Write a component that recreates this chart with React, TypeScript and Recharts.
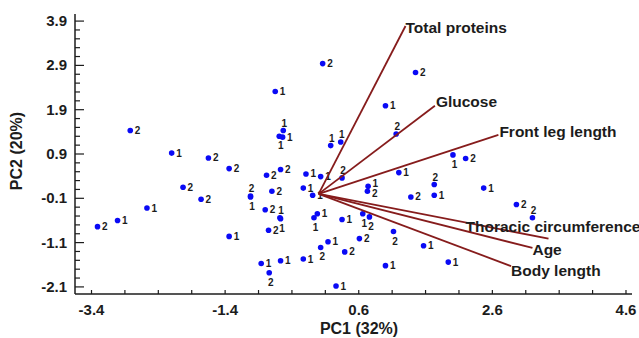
import { ScatterChart, Scatter, XAxis, YAxis } from 'recharts';

// PCA scores (PC1, PC2), split by group
const GROUP_1: [number, number][] = [
  [-0.65, 2.31], [-2.2, 0.92], [-0.53, 1.43], [-0.59, 1.3], [-0.54, 1.28],
  [0.18, 1.09], [0.33, 1.17], [-0.19, 0.45], [0.03, 0.39], [-0.23, 0.13],
  [-0.09, -0.03], [-1.02, -0.07], [-2.57, -0.32], [-3.01, -0.6], [-0.58, -0.54],
  [-0.57, -0.56], [-1.34, -0.96], [-0.86, -1.57], [-0.57, -1.51], [-0.23, -1.47],
  [0.14, -1.08], [-0.02, -0.45], [-0.07, -0.54], [0.35, -0.58], [0.26, -2.08],
  [1.2, 0.48], [2.01, 0.88], [0.74, 0.17], [1.73, -0.03], [2.47, 0.13],
  [0.66, -0.45], [1.57, -1.17], [1.0, -1.62], [1.94, -1.54], [1.0, 1.99],
];
// where the group number sits next to each dot:
// r = right, u = right and a bit up, d = right and a bit down, t = top, b = below
const GROUP_1_SIDE = [
  'r', 'r', 't', 'b', 'r',
  't', 't', 'r', 'r', 'r',
  'r', 'b', 'r', 'r', 't',
  'b', 'r', 'r', 'r', 'r',
  'r', 'r', 'b', 'r', 'r',
  'r', 'b', 'u', 'r', 'r',
  'b', 'r', 'r', 'r', 'r',
];

const GROUP_2: [number, number][] = [
  [0.06, 2.94], [-2.82, 1.43], [-1.65, 0.81], [-1.34, 0.57], [-0.57, 0.55],
  [-0.78, 0.42], [0.35, 0.36], [-0.7, 0.06], [-1.02, -0.05], [-2.03, 0.15],
  [-1.76, -0.12], [-3.31, -0.74], [-0.8, -0.36], [-0.75, -0.82], [-0.74, -1.78],
  [0.03, -1.21], [0.39, -1.31], [2.2, 0.8], [0.73, 0.06], [1.73, 0.21],
  [1.38, -0.07], [2.96, -0.24], [3.2, -0.54], [0.76, -0.52], [1.12, -0.85],
  [0.61, -1.01], [1.45, 2.74], [1.16, 1.35],
];
const GROUP_2_SIDE = [
  'r', 'r', 'r', 'r', 'r',
  'r', 't', 'r', 't', 'r',
  'r', 'r', 'r', 'r', 'b',
  'b', 'r', 'r', 'd', 't',
  'r', 'r', 't', 'b', 'b',
  'r', 'r', 't',
];

// variable loadings (arrow tips)
const LOADING_NAMES = [
  'Total proteins',
  'Glucose',
  'Front leg length',
  'Thoracic circumference',
  'Age',
  'Body length',
];
const LOADING_PC1 = [1.3, 1.74, 2.69, 3.44, 3.2, 2.88];
const LOADING_PC2 = [3.79, 1.99, 1.33, -1.01, -1.22, -1.63];
// label nudge from the arrow tip, px
const LOADING_NUDGE = [[0, 7], [1, 1], [1, 2], [-83, -7], [0, 7], [0, 10]];

const X_MAJOR = [-3.4, -1.4, 0.6, 2.6, 4.6];
const Y_MAJOR = [3.9, 2.9, 1.9, 0.9, -0.1, -1.1, -2.1];

const steps = (from: number, to: number, step: number) => {
  const out: number[] = [];
  for (let v = from; v <= to + 1e-9; v += step) out.push(Math.round(v * 10) / 10);
  return out;
};
const X_TICKS = steps(-3.4, 4.6, 0.5);
const Y_TICKS = steps(-2.1, 3.9, 0.2);
const isMajor = (list: number[], v: number) => list.some((m) => Math.abs(m - v) < 1e-6);

const INK = '#1c1c1c';
const FONT = "'Liberation Sans', Arial, sans-serif";
const DOT = '#0a0af5';
const ARROW = '#861c1c';

const group1 = GROUP_1.map(([x, y], i) => ({ x, y, side: GROUP_1_SIDE[i] }));
const group2 = GROUP_2.map(([x, y], i) => ({ x, y, side: GROUP_2_SIDE[i] }));

const loadings = LOADING_NAMES.map((name, i) => [
  { x: 0, y: 0 },
  { x: LOADING_PC1[i], y: LOADING_PC2[i], name, dx: LOADING_NUDGE[i][0], dy: LOADING_NUDGE[i][1] },
]);

const makeDot = (group: string) => (props: any) => {
  const { cx, cy, payload } = props;
  let tx = cx + 4.5;
  let ty = cy + 3.5;
  let anchor = 'start';
  if (payload.side === 'u') {
    ty = cy + 0.5;
  } else if (payload.side === 'd') {
    ty = cy + 6;
  } else if (payload.side === 't') {
    tx = cx + 1;
    ty = cy - 4;
    anchor = 'middle';
  } else if (payload.side === 'b') {
    tx = cx + 1.5;
    ty = cy + 13;
    anchor = 'middle';
  }
  return (
    <g>
      <circle cx={cx} cy={cy} r={2.8} fill={DOT} />
      <text x={tx} y={ty} textAnchor={anchor} fontSize={10} fontWeight="bold" fontFamily={FONT} fill={INK}>
        {group}
      </text>
    </g>
  );
};

function LoadingTip(props: any) {
  const { cx, cy, payload } = props;
  if (!payload || !payload.name) return <g />;
  return (
    <text
      x={cx + payload.dx}
      y={cy + payload.dy}
      fontSize={15.5}
      fontWeight="bold"
      fontFamily={FONT}
      fill={INK}
    >
      {payload.name}
    </text>
  );
}

function BottomTick({ x, y, payload }: any) {
  const major = isMajor(X_MAJOR, payload.value);
  return (
    <g>
      <line x1={x} y1={y} x2={x} y2={y - 4} stroke={INK} strokeWidth={1.2} />
      {major && (
        <text x={x} y={y + 21} textAnchor="middle" fontSize={15} fontWeight="bold" fontFamily={FONT} fill={INK}>
          {payload.value.toFixed(1)}
        </text>
      )}
    </g>
  );
}

function TopTick({ x, y }: any) {
  return <line x1={x} y1={y} x2={x} y2={y + 4} stroke={INK} strokeWidth={1.2} />;
}

function LeftTick({ x, y, payload }: any) {
  const major = isMajor(Y_MAJOR, payload.value);
  return (
    <g>
      <line x1={x} y1={y} x2={x + (major ? 9 : 5)} y2={y} stroke={INK} strokeWidth={1.2} />
      {major && (
        <text x={x - 8} y={y + 5} textAnchor="end" fontSize={15} fontWeight="bold" fontFamily={FONT} fill={INK}>
          {payload.value.toFixed(1)}
        </text>
      )}
    </g>
  );
}

function RightTick({ x, y, payload }: any) {
  const major = isMajor(Y_MAJOR, payload.value);
  return <line x1={x} y1={y} x2={x - (major ? 9 : 5)} y2={y} stroke={INK} strokeWidth={1.2} />;
}

const X_DOMAIN = [-3.647, 4.69];
const Y_DOMAIN = [-2.26, 4.06];
const frame = { stroke: INK, strokeWidth: 1.5 };

export default function App() {
  return (
    <div style={{ position: 'absolute', left: 0, top: 0, background: '#fff' }}>
      <ScatterChart width={639} height={338} margin={{ top: 14, right: 7, bottom: 0, left: 0 }}>
        <XAxis
          xAxisId="main"
          type="number"
          dataKey="x"
          domain={X_DOMAIN}
          ticks={X_TICKS}
          interval={0}
          height={44}
          tickSize={0}
          tickMargin={0}
          tickLine={false}
          axisLine={frame}
          tick={<BottomTick />}
          label={{
            content: () => (
              <text x={359} y={334} textAnchor="middle" fontSize={16} fontWeight="bold" fontFamily={FONT} fill={INK}>
                PC1 (32%)
              </text>
            ),
          }}
        />
        <XAxis
          xAxisId="top"
          orientation="top"
          type="number"
          dataKey="x"
          domain={X_DOMAIN}
          allowDataOverflow
          ticks={X_TICKS}
          interval={0}
          height={0}
          tickSize={0}
          tickMargin={0}
          tickLine={false}
          axisLine={frame}
          tick={<TopTick />}
        />
        <YAxis
          yAxisId="main"
          type="number"
          dataKey="y"
          domain={Y_DOMAIN}
          ticks={Y_TICKS}
          interval={0}
          width={75}
          tickSize={0}
          tickMargin={0}
          tickLine={false}
          axisLine={frame}
          tick={<LeftTick />}
          label={{
            content: () => (
              <text
                transform="translate(16,151) rotate(-90)"
                textAnchor="middle"
                dominantBaseline="central"
                fontSize={16}
                fontWeight="bold"
                fontFamily={FONT}
                fill={INK}
              >
                PC2 (20%)
              </text>
            ),
          }}
        />
        <YAxis
          yAxisId="right"
          orientation="right"
          type="number"
          dataKey="y"
          domain={Y_DOMAIN}
          allowDataOverflow
          ticks={Y_TICKS}
          interval={0}
          width={0}
          tickSize={0}
          tickMargin={0}
          tickLine={false}
          axisLine={frame}
          tick={<RightTick />}
        />

        <Scatter xAxisId="main" yAxisId="main" data={group1} shape={makeDot('1')} isAnimationActive={false} />
        <Scatter xAxisId="main" yAxisId="main" data={group2} shape={makeDot('2')} isAnimationActive={false} />

        {loadings.map((seg, i) => (
          <Scatter
            key={i}
            xAxisId="main"
            yAxisId="main"
            data={seg}
            line={{ stroke: ARROW, strokeWidth: 1.8 }}
            shape={(p: any) => <LoadingTip {...p} />}
            isAnimationActive={false}
          />
        ))}
        <Scatter xAxisId="top" yAxisId="right" data={[]} isAnimationActive={false} />
      </ScatterChart>
    </div>
  );
}
